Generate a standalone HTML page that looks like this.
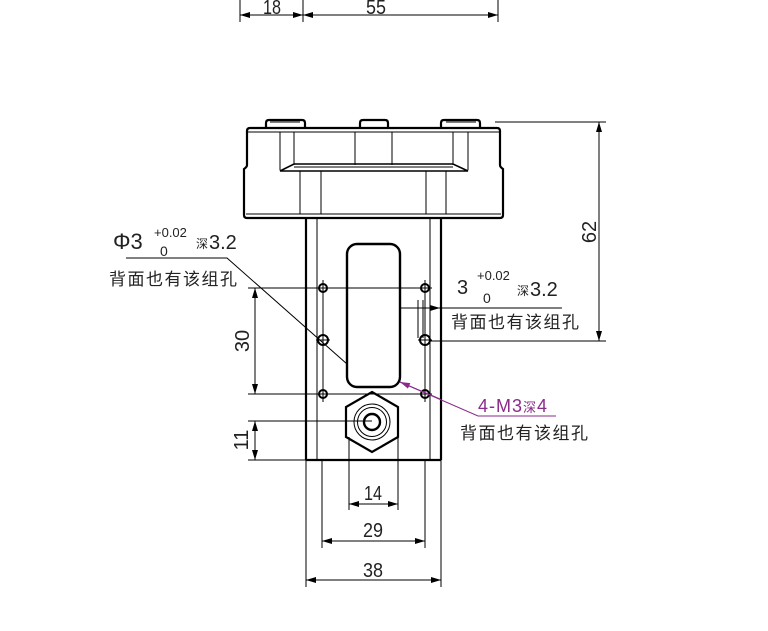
<!DOCTYPE html>
<html><head><meta charset="utf-8"><style>
html,body{margin:0;padding:0;background:#fff;}
svg{display:block}
text{font-family:"Liberation Sans","Noto Sans CJK SC",sans-serif;}
</style></head><body>
<svg width="768" height="631" viewBox="0 0 768 631" xmlns="http://www.w3.org/2000/svg">
<defs>
<marker id="a" viewBox="0 0 10 6" refX="10" refY="3" markerWidth="10" markerHeight="6" orient="auto-start-reverse" markerUnits="userSpaceOnUse"><path d="M0,0 L10,3 L0,6 z" fill="#000"/></marker>
<marker id="p" viewBox="0 0 10 6" refX="10" refY="3" markerWidth="10" markerHeight="6" orient="auto" markerUnits="userSpaceOnUse"><path d="M0,0 L10,3 L0,6 z" fill="#8a2a8a"/></marker>
</defs>
<g stroke="#000" fill="none" stroke-width="1">
<line x1="240" y1="0" x2="240" y2="22"/><line x1="303" y1="0" x2="303" y2="22"/><line x1="498" y1="0" x2="498" y2="22"/>
<line x1="240" y1="15" x2="303" y2="15" marker-start="url(#a)" marker-end="url(#a)"/>
<line x1="303" y1="15" x2="498" y2="15" marker-start="url(#a)" marker-end="url(#a)"/>
<g stroke-width="2.2">
<path d="M266,128 v-5 q0,-3 3,-3 h33 q3,0 3,3 v5"/>
<path d="M360,128 v-5 q0,-3 3,-3 h22 q3,0 3,3 v5"/>
<path d="M441,128 v-5 q0,-3 3,-3 h33 q3,0 3,3 v5"/>
<path d="M250,128 h247 q3,0 3,3 v34 q0,2 3,4 v46 q0,3 -3,3 h-253 q-3,0 -3,-3 v-46 q3,-2 3,-4 v-34 q0,-3 3,-3 z"/>
<line x1="306" y1="218" x2="306" y2="460"/><line x1="441" y1="218" x2="441" y2="460"/>
<line x1="306" y1="460" x2="441" y2="460"/>
</g>
<line x1="248" y1="132" x2="499" y2="132"/><line x1="246" y1="214" x2="501" y2="214"/>
<line x1="270" y1="122" x2="300" y2="122"/><line x1="446" y1="122" x2="476" y2="122"/>
<line x1="280" y1="132" x2="280" y2="170"/><line x1="294" y1="132" x2="294" y2="165"/>
<line x1="355" y1="132" x2="355" y2="165"/><line x1="392" y1="132" x2="392" y2="165"/>
<line x1="453" y1="132" x2="453" y2="165"/><line x1="468" y1="132" x2="468" y2="170"/>
<path d="M280,171 L294,164 H453 L468,171 Z" stroke-width="1.6"/>
<line x1="294" y1="167" x2="453" y2="167"/>
<line x1="300" y1="171" x2="300" y2="214"/><line x1="321" y1="171" x2="321" y2="214"/>
<line x1="426" y1="171" x2="426" y2="214"/><line x1="446" y1="171" x2="446" y2="214"/>
<line x1="317" y1="218" x2="317" y2="460"/><line x1="430" y1="218" x2="430" y2="460"/>
<rect x="347" y="244" width="53" height="143" rx="10" stroke-width="2.4"/>
<g stroke-width="2">
<circle cx="323" cy="288" r="4"/><circle cx="425" cy="288" r="4"/>
<circle cx="323" cy="340" r="5"/><circle cx="425" cy="340" r="5"/>
<circle cx="323" cy="394" r="4"/><circle cx="425" cy="394" r="4"/>
</g>
<line x1="316" y1="288" x2="330" y2="288"/><line x1="418" y1="288" x2="432" y2="288"/>
<line x1="316" y1="340" x2="330" y2="340"/><line x1="418" y1="340" x2="432" y2="340"/>
<line x1="316" y1="394" x2="330" y2="394"/><line x1="418" y1="394" x2="432" y2="394"/>
<line x1="323" y1="280" x2="323" y2="402"/><line x1="425" y1="280" x2="425" y2="402"/>
<polygon points="372,392 398,407 398,437 372,452 346,437 346,407" stroke-width="2.2"/>
<circle cx="372" cy="422" r="18"/><circle cx="372" cy="422" r="14.5"/>
<circle cx="372" cy="422" r="8" stroke-width="2.4"/>
<line x1="349" y1="437" x2="349" y2="510"/><line x1="398" y1="437" x2="398" y2="510"/>
<line x1="248" y1="288" x2="425" y2="288"/>
<line x1="248" y1="394" x2="425" y2="394"/>
<line x1="248" y1="421" x2="372" y2="421"/>
<line x1="248" y1="460" x2="306" y2="460"/>
<line x1="255" y1="288" x2="255" y2="394" marker-start="url(#a)" marker-end="url(#a)"/>
<line x1="255" y1="421" x2="255" y2="460" marker-start="url(#a)" marker-end="url(#a)"/>
<line x1="322" y1="460" x2="322" y2="548"/><line x1="425" y1="460" x2="425" y2="548"/>
<line x1="306" y1="460" x2="306" y2="587"/><line x1="441" y1="460" x2="441" y2="587"/>
<line x1="349" y1="504" x2="398" y2="504" marker-start="url(#a)" marker-end="url(#a)"/>
<line x1="322" y1="541" x2="425" y2="541" marker-start="url(#a)" marker-end="url(#a)"/>
<line x1="306" y1="580" x2="441" y2="580" marker-start="url(#a)" marker-end="url(#a)"/>
<line x1="495" y1="122" x2="606" y2="122"/>
<line x1="430" y1="341" x2="606" y2="341"/>
<line x1="599" y1="122" x2="599" y2="341" marker-start="url(#a)" marker-end="url(#a)"/>
<polyline points="126,258 227,258 347,364"/>
<line x1="400" y1="308" x2="440" y2="308" marker-end="url(#a)"/>
<line x1="440" y1="308" x2="562" y2="308"/>
<line x1="418" y1="300" x2="418" y2="338"/><line x1="423" y1="300" x2="423" y2="338"/>
</g>
<polyline points="400,382 478,416 556,416" fill="none" stroke="#8a2a8a" stroke-width="1"/>
<line x1="440" y1="399" x2="400" y2="382" stroke="#8a2a8a" marker-end="url(#p)"/>
<g font-size="20" fill="#222">
<text x="376" y="14" text-anchor="middle" textLength="20" lengthAdjust="spacingAndGlyphs">55</text>
<text x="272" y="14" text-anchor="middle" textLength="18" lengthAdjust="spacingAndGlyphs">18</text>
<text x="373" y="500" text-anchor="middle" textLength="18" lengthAdjust="spacingAndGlyphs">14</text>
<text x="373" y="537" text-anchor="middle" textLength="20" lengthAdjust="spacingAndGlyphs">29</text>
<text x="373" y="577" text-anchor="middle" textLength="20" lengthAdjust="spacingAndGlyphs">38</text>
<text transform="translate(249,341) rotate(-90)" text-anchor="middle">30</text>
<text transform="translate(248,440) rotate(-90)" text-anchor="middle">11</text>
<text transform="translate(596,232) rotate(-90)" text-anchor="middle">62</text>
<text x="113" y="249" font-size="22">Φ3</text>
<text x="154" y="237" font-size="13">+0.02</text>
<text x="160" y="256" font-size="14">0</text>
<text x="196" y="248" font-size="12">深</text><text x="209" y="249" font-size="20">3.2</text>
<text x="109" y="285" font-size="17" letter-spacing="1.5">背面也有该组孔</text>
<text x="457" y="294" font-size="20">3</text>
<text x="477" y="280" font-size="13">+0.02</text>
<text x="483" y="303" font-size="14">0</text>
<text x="517" y="295" font-size="12">深</text><text x="530" y="296" font-size="20">3.2</text>
<text x="451" y="328" font-size="17" letter-spacing="1.5">背面也有该组孔</text>
<text x="478" y="412" font-size="18" fill="#8a2a8a" letter-spacing="1">4-M3<tspan font-size="13">深</tspan>4</text>
<text x="460" y="439" font-size="17" letter-spacing="1.5">背面也有该组孔</text>
</g>
</svg>
</body></html>
